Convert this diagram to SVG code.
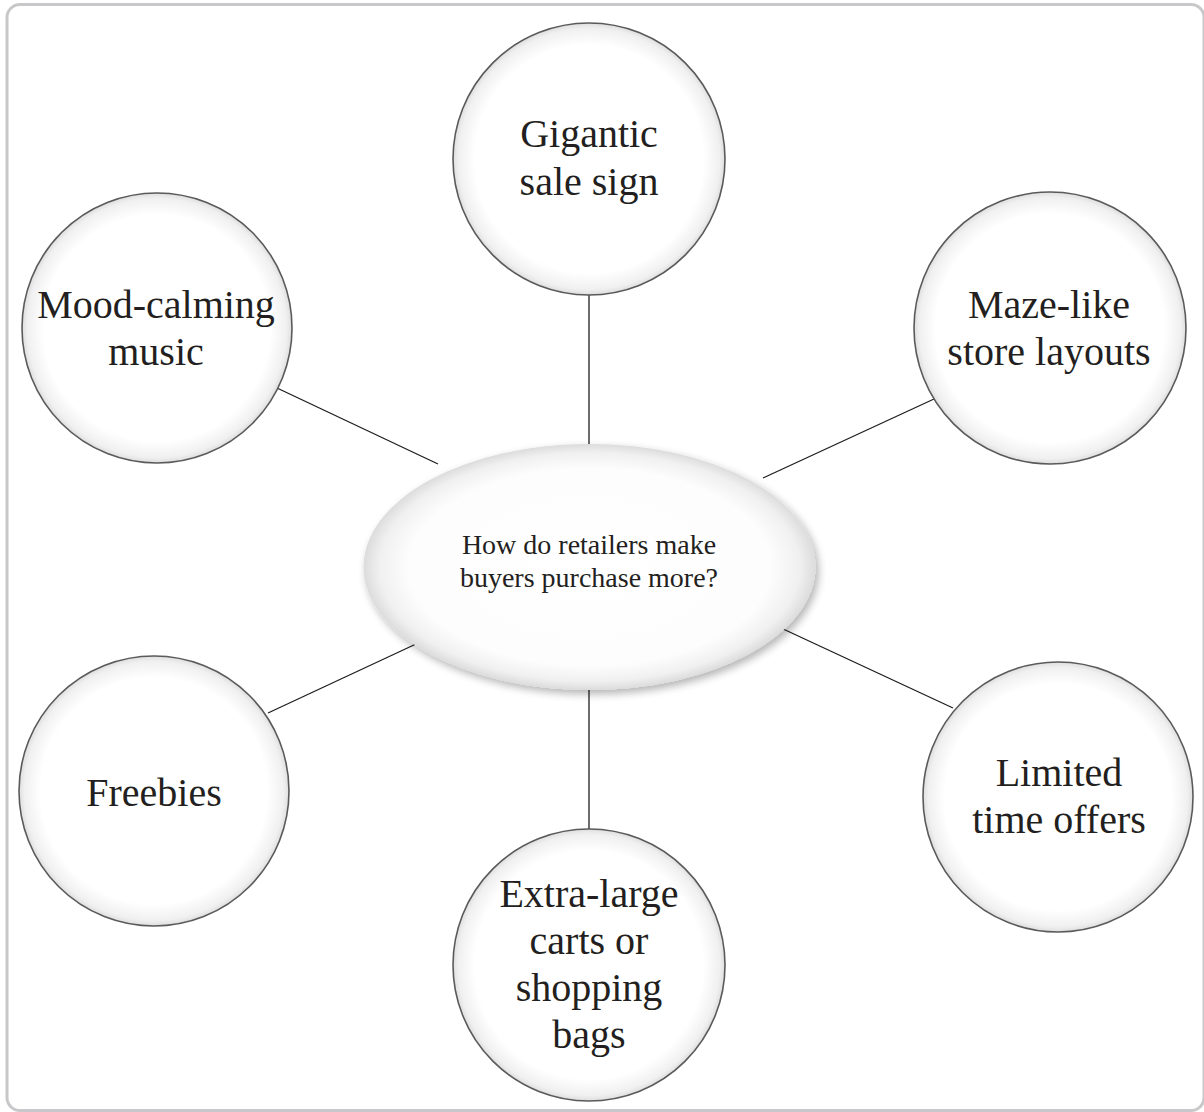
<svg xmlns="http://www.w3.org/2000/svg" width="1204" height="1112" viewBox="0 0 1204 1112">
  <style>
    .frame { fill: #ffffff; stroke: #c8c8ca; stroke-width: 3; }
    .bubble { fill: url(#bubbleGrad); stroke: #5a5a5a; stroke-width: 1.6; }
    .hub { fill: url(#hubGrad); filter: url(#hubShadow); }
    .lbl { font-size: 40px; fill: #231f20; text-anchor: middle; }
    .hubLbl { font-size: 28px; fill: #231f20; text-anchor: middle; }
    .conn line { stroke: #1e1e1e; stroke-width: 1.3; }
  </style>
  <defs>
    <radialGradient id="bubbleGrad" cx="50%" cy="50%" r="50%">
      <stop offset="0" stop-color="#ffffff"/>
      <stop offset="0.84" stop-color="#ffffff"/>
      <stop offset="0.96" stop-color="#f0f0f0"/>
      <stop offset="1" stop-color="#dedede"/>
    </radialGradient>
    <radialGradient id="hubGrad" cx="50%" cy="50%" r="50%">
      <stop offset="0" stop-color="#ffffff"/>
      <stop offset="0.8" stop-color="#fdfdfd"/>
      <stop offset="0.93" stop-color="#f0f0f0"/>
      <stop offset="1" stop-color="#dcdcdc"/>
    </radialGradient>
    <filter id="hubShadow" x="-10%" y="-15%" width="125%" height="135%">
      <feGaussianBlur in="SourceAlpha" stdDeviation="4"/>
      <feOffset dx="3" dy="4" result="b"/>
      <feComponentTransfer><feFuncA type="linear" slope="0.3"/></feComponentTransfer>
      <feMerge><feMergeNode/><feMergeNode in="SourceGraphic"/></feMerge>
    </filter>
  </defs>

  <rect class="frame" x="7" y="4.5" width="1197" height="1106" rx="13" ry="13"/>

  <g id="connectors" class="conn">
    <line x1="589" y1="295" x2="589" y2="456"/>
    <line x1="277" y1="388" x2="438" y2="464"/>
    <line x1="934" y1="399" x2="763" y2="478"/>
    <line x1="268" y1="713" x2="416" y2="644"/>
    <line x1="589" y1="688" x2="589" y2="830"/>
    <line x1="781" y1="628" x2="953" y2="708"/>
  </g>

  <g font-family="Liberation Serif, serif">
  <g id="hub">
    <ellipse class="hub" cx="589.5" cy="567" rx="226" ry="123"/>
    <text class="hubLbl" x="589" y="554">How do retailers make</text>
    <text class="hubLbl" x="589" y="587">buyers purchase more?</text>
  </g>

  <g id="node-gigantic">
    <circle class="bubble" cx="589" cy="159" r="136"/>
    <text class="lbl" x="589" y="147">Gigantic</text>
    <text class="lbl" x="589" y="195">sale sign</text>
  </g>

  <g id="node-mood">
    <circle class="bubble" cx="157" cy="328" r="135"/>
    <text class="lbl" x="156" y="318">Mood-calming</text>
    <text class="lbl" x="156" y="365">music</text>
  </g>

  <g id="node-maze">
    <circle class="bubble" cx="1050" cy="328" r="136"/>
    <text class="lbl" x="1049" y="318">Maze-like</text>
    <text class="lbl" x="1049" y="365">store layouts</text>
  </g>

  <g id="node-freebies">
    <circle class="bubble" cx="154" cy="791" r="135"/>
    <text class="lbl" x="154" y="806">Freebies</text>
  </g>

  <g id="node-limited">
    <circle class="bubble" cx="1058" cy="797" r="135"/>
    <text class="lbl" x="1059" y="786">Limited</text>
    <text class="lbl" x="1059" y="833">time offers</text>
  </g>

  <g id="node-extra">
    <circle class="bubble" cx="589" cy="965" r="136"/>
    <text class="lbl" x="589" y="907">Extra-large</text>
    <text class="lbl" x="589" y="954">carts or</text>
    <text class="lbl" x="589" y="1001">shopping</text>
    <text class="lbl" x="589" y="1048">bags</text>
  </g>
  </g>
</svg>
